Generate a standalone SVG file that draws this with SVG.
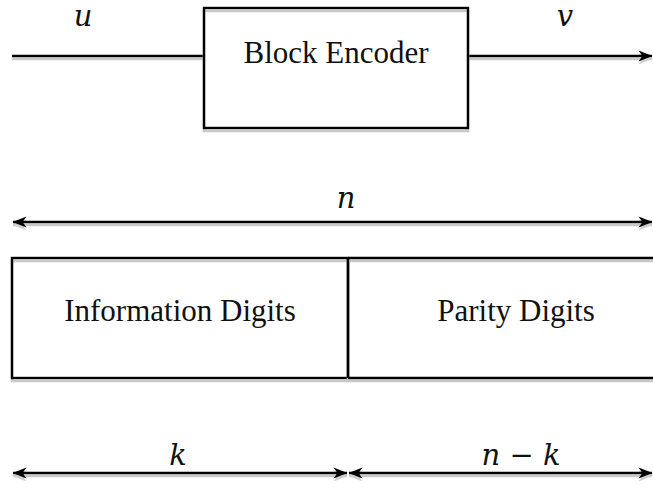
<svg xmlns="http://www.w3.org/2000/svg" width="653" height="489" viewBox="0 0 653 489">
  <style>
    .ln { stroke: #000; stroke-width: 2.4; fill: none; }
    .sh { stroke: #c9c9c9; stroke-width: 2.6; fill: none; }
    .lbl { font-family: "Liberation Serif", "Times New Roman", serif; font-size: 31px; fill: #111; text-anchor: middle; }
    .math { font-family: "DejaVu Serif", "Liberation Serif", serif; font-style: italic; font-size: 29px; fill: #111; text-anchor: middle; }
  </style>
  <defs>
    <marker id="head" viewBox="0 0 14 12" refX="13.5" refY="6" markerWidth="15" markerHeight="12" markerUnits="userSpaceOnUse" orient="auto-start-reverse">
      <path d="M14,6 L0,0.5 L4,6 L0,11.5 Z" fill="#000"/>
    </marker>
    <marker id="headSh" viewBox="0 0 14 12" refX="13.5" refY="6" markerWidth="15" markerHeight="12" markerUnits="userSpaceOnUse" orient="auto-start-reverse">
      <path d="M14,6 L0,0.5 L4,6 L0,11.5 Z" fill="#cfcfcf"/>
    </marker>
  </defs>

  <rect width="653" height="489" fill="#fff"/>

  <!-- connectors: shadows first, then black strokes -->
  <g id="connectors">
    <g class="shadows">
      <line class="sh" x1="12" y1="59" x2="204" y2="59"/>
      <line class="sh" x1="468" y1="59" x2="652" y2="59" marker-end="url(#headSh)"/>
      <line class="sh" x1="13" y1="225" x2="652" y2="225" marker-start="url(#headSh)" marker-end="url(#headSh)"/>
      <line class="sh" x1="13" y1="476" x2="347" y2="476" marker-start="url(#headSh)" marker-end="url(#headSh)"/>
      <line class="sh" x1="349" y1="476" x2="652" y2="476" marker-start="url(#headSh)" marker-end="url(#headSh)"/>
    </g>
    <line class="ln" x1="12" y1="56" x2="204" y2="56"/>
    <line class="ln" x1="468" y1="56" x2="652" y2="56" marker-end="url(#head)"/>
    <line class="ln" x1="13" y1="222" x2="652" y2="222" marker-start="url(#head)" marker-end="url(#head)"/>
    <line class="ln" x1="13" y1="473" x2="347" y2="473" marker-start="url(#head)" marker-end="url(#head)"/>
    <line class="ln" x1="349" y1="473" x2="652" y2="473" marker-start="url(#head)" marker-end="url(#head)"/>
  </g>

  <!-- encoder block -->
  <g id="encoder">
    <rect x="204" y="8" width="264" height="120" fill="#fff"/>
    <rect class="sh" x="204" y="11" width="264" height="120"/>
    <rect class="ln" x="204" y="8" width="264" height="120"/>
    <text class="lbl" x="336" y="63">Block Encoder</text>
  </g>

  <!-- codeword layout -->
  <g id="info-digits">
    <rect x="12" y="258" width="336" height="120" fill="#fff"/>
    <rect class="sh" x="12" y="261" width="336" height="120"/>
    <rect class="ln" x="12" y="258" width="336" height="120"/>
    <text class="lbl" x="180" y="321">Information Digits</text>
  </g>
  <g id="parity-digits">
    <path class="sh" d="M348,261 H660 M348,381 H660 M348,261 V381"/>
    <path class="ln" d="M348,258 H660 M348,378 H660 M348,258 V378"/>
    <text class="lbl" x="516" y="321">Parity Digits</text>
  </g>

  <!-- symbol labels -->
  <g id="labels">
    <text class="math" x="83" y="26">u</text>
    <text class="math" x="565" y="26">v</text>
    <text class="math" x="346" y="208">n</text>
    <text class="math" x="178" y="465">k</text>
    <text class="math" x="521" y="465">n − k</text>
  </g>
</svg>
